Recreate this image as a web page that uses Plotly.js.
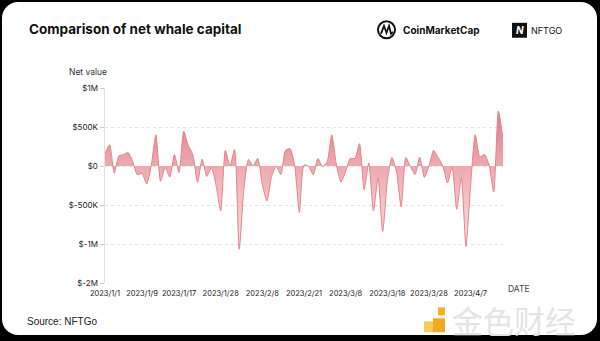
<!DOCTYPE html>
<html>
<head>
<meta charset="utf-8">
<script src="https://cdn.plot.ly/plotly-3.0.1.min.js"></script>
<style>
html,body{margin:0;padding:0;background:#000;width:600px;height:341px;overflow:hidden;}
#card{position:absolute;left:2px;top:2px;width:595px;height:333px;background:#fff;border-radius:16px;}
#chart{position:absolute;left:0;top:0;width:600px;height:341px;}
</style>
</head>
<body>
<div id="card"></div>
<div id="chart"></div>
<script>
// Net whale capital (USD), one value per plotted day
const netValues = [
  160000, 273000, -92000, 130000, 147000, 172000, 55000, -113000, -92000, -231000,
  10000, 400000, -197000, -20000, -143000, 147000, -84000, 445000, 265000, 139000,
  -210000, 88000, -134000, -21000, -250000, -575000, 200000, 0, 214000, -1070000,
  -300000, 84000, 5000, 97000, -240000, -450000, -134000, 0, -113000, 200000,
  222000, 0, -596000, 13000, -5000, -113000, 97000, -8000, 55000, 400000,
  13000, -205000, -71000, 97000, 97000, 286000, -302000, 40000, -575000, -150000,
  -840000, -200000, 110000, -80000, -525000, 110000, -10000, -110000, 115000, -147000,
  0, 200000, 110000, 0, -218000, -10000, -554000, -150000, -1030000, -250000,
  400000, 118000, 147000, 13000, -332000, 705000, 350000
];
const dateLabels = ['2023/1/1','2023/1/9','2023/1/17','2023/1/28','2023/2/8','2023/2/21','2023/3/8','2023/3/18','2023/3/28','2023/4/7'];
const dateLabelIndex = [0, 8, 16, 25, 34, 43, 52, 61, 70, 79];
const yTickValues = [1000000, 500000, 0, -500000, -1000000, -1500000];
const yTickLabels = ['$1M', '$500K', '$0', '$-500K', '$-1M', '$-2M'];

const xIdx = netValues.map((_, i) => i);

// pixel -> paper helpers (plot area: x 105..503, y 87.5..283.5)
const L = 105, R = 503, T = 87.5, B = 283.5;
const px = p => (p - L) / (R - L);
const py = p => (B - p) / (B - T);

const trace = {
  type: 'scatter',
  mode: 'lines',
  x: xIdx,
  y: netValues,
  fill: 'tozeroy',
  line: {color: '#e3848d', width: 1, shape: 'spline', smoothing: 0.6},
  fillgradient: {
    type: 'vertical',
    colorscale: [[0, '#fbe4e6'], [0.6, '#eeaab0'], [1, '#de7b85']],
    start: -1100000,
    stop: 720000
  },
  hoverinfo: 'skip'
};

const fontMain = 'Inter, "Noto Sans", sans-serif';

const annotations = [
  {text: 'Net value', x: px(88), y: py(71), xref: 'paper', yref: 'paper', showarrow: false,
   xanchor: 'center', yanchor: 'middle', font: {family: fontMain, size: 8.5, color: '#333'}},
  {text: 'DATE', x: px(519), y: py(290), xref: 'paper', yref: 'paper', showarrow: false,
   xanchor: 'center', yanchor: 'middle', font: {family: fontMain, size: 8.5, color: '#444'}},
  {text: 'Source: NFTGo', x: px(25), y: py(322), xref: 'paper', yref: 'paper', showarrow: false,
   xanchor: 'left', yanchor: 'middle', font: {family: '"Liberation Sans", Arial, sans-serif', size: 10, color: '#222'}},
  {text: '<b>CoinMarketCap</b>', x: px(401), y: py(29), xref: 'paper', yref: 'paper', showarrow: false,
   xanchor: 'left', yanchor: 'middle', font: {family: fontMain, size: 10, color: '#111'}},
  {text: '<b><i>N</i></b>', x: px(519.5), y: py(29.5), xref: 'paper', yref: 'paper', showarrow: false,
   xanchor: 'center', yanchor: 'middle', font: {family: fontMain, size: 10, color: '#fff'}},
  {text: 'NFTGO', x: px(529), y: py(29.5), xref: 'paper', yref: 'paper', showarrow: false,
   xanchor: 'left', yanchor: 'middle', font: {family: fontMain, size: 9, color: '#111'}},
  {text: '金色财经', x: px(450), y: py(320), xref: 'paper', yref: 'paper', showarrow: false,
   xanchor: 'left', yanchor: 'middle', font: {family: '"Noto Sans CJK SC", sans-serif', size: 31, color: '#e4e4e4'}}
];

const shapes = [
  // CoinMarketCap logo circle
  {type: 'circle', xref: 'paper', yref: 'paper', x0: px(378), x1: px(395), y0: py(37.5), y1: py(20.5),
   line: {color: '#111', width: 2}},
  {type: 'path', xref: 'paper', yref: 'paper',
   path: `M ${px(381)} ${py(33)} L ${px(384)} ${py(25)} L ${px(386.5)} ${py(32)} L ${px(389)} ${py(25)} L ${px(391)} ${py(33)} L ${px(393)} ${py(31)}`,
   line: {color: '#111', width: 1.8}},
  // NFTGO logo square
  {type: 'rect', xref: 'paper', yref: 'paper', x0: px(512), x1: px(527), y0: py(37), y1: py(22),
   fillcolor: '#111', line: {width: 0}},
  // watermark yellow blocks
  {type: 'rect', xref: 'paper', yref: 'paper', x0: px(438), x1: px(445), y0: py(316), y1: py(308),
   fillcolor: '#f5b21b', line: {width: 0}},
  {type: 'rect', xref: 'paper', yref: 'paper', x0: px(424), x1: px(433), y0: py(333), y1: py(322),
   fillcolor: '#f7cc55', line: {width: 0}},
  {type: 'rect', xref: 'paper', yref: 'paper', x0: px(433), x1: px(445), y0: py(333), y1: py(319),
   fillcolor: '#f0aa22', line: {width: 0}}
];

const layout = {
  width: 600, height: 341,
  margin: {l: L, r: 600 - R, t: T, b: 341 - B, pad: 0},
  paper_bgcolor: 'rgba(0,0,0,0)',
  plot_bgcolor: 'rgba(0,0,0,0)',
  showlegend: false,
  title: {text: '<b>Comparison of net whale capital</b>', x: 29 / 600, xanchor: 'left', xref: 'container',
          y: 1 - 29 / 341, yanchor: 'middle', yref: 'container',
          font: {family: fontMain, size: 13.5, color: '#111'}},
  xaxis: {
    range: [0, netValues.length - 1],
    tickvals: dateLabelIndex, ticktext: dateLabels,
    tickangle: 0,
    showgrid: false, zeroline: false, showline: false, ticks: '',
    ticklabelstandoff: 4,
    tickfont: {family: fontMain, size: 7.5, color: '#222'},
    fixedrange: true
  },
  yaxis: {
    range: [-1500000, 1000000],
    tickvals: yTickValues, ticktext: yTickLabels,
    showgrid: true, gridcolor: '#e2e2e2', griddash: 'dot', gridwidth: 1,
    zeroline: false,
    showline: true, linecolor: '#e0e0e0', linewidth: 1.5,
    ticks: 'outside', ticklen: 4, tickcolor: '#cccccc', tickwidth: 1,
    tickfont: {family: fontMain, size: 8, color: '#222'},
    fixedrange: true
  },
  annotations: annotations,
  shapes: shapes
};

Plotly.newPlot('chart', [trace], layout, {displayModeBar: false, staticPlot: true});
</script>
</body>
</html>
